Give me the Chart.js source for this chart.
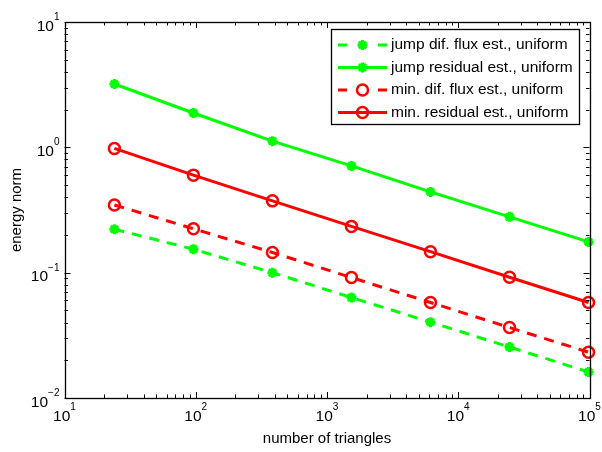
<!DOCTYPE html>
<html>
<head>
<meta charset="utf-8">
<script src="https://cdn.jsdelivr.net/npm/chart.js@4/dist/chart.umd.min.js"></script>
<style>
  html, body { margin: 0; padding: 0; background: #fff; }
  canvas { display: block; }
</style>
</head>
<body>
<canvas id="c" width="602" height="452"></canvas>
<script>
// --- data ---
const triangles    = [24, 96, 384, 1536, 6144, 24576, 98304];
const jumpDifFlux  = [0.222, 0.154, 0.100, 0.0633, 0.0403, 0.0255, 0.0161];
const jumpResidual = [3.2, 1.88, 1.12, 0.711, 0.441, 0.279, 0.176];
const minDifFlux   = [0.347, 0.224, 0.145, 0.0914, 0.0578, 0.0365, 0.0232];
const minResidual  = [0.98, 0.60, 0.374, 0.234, 0.147, 0.092, 0.0578];

const seriesLabels = [
  "jump dif. flux est., uniform",
  "jump residual est., uniform",
  "min. dif. flux est., uniform",
  "min. residual est., uniform"
];

// decade ticks (value, exponent text)
const xTickValues = [10, 100, 1000, 10000, 100000];
const xTickExps   = ["1", "2", "3", "4", "5"];
const yTickValues = [0.01, 0.1, 1, 10];
const yTickExps   = ["\u22122", "\u22121", "0", "1"];

const xTitle = "number of triangles";
const yTitle = "energy norm";

const FONT = '"Liberation Sans", Arial, Helvetica, sans-serif';
const GREEN = "#00ff00";
const RED = "#ff0000";
const DASH = [10, 8];

function pts(xs, ys) {
  return xs.map((x, i) => ({ x: x, y: ys[i] }));
}

// 目盛り・枠・ラベル・凡例を描く
const overlay = {
  id: "overlay",
  afterDraw(chart) {
    const { ctx, chartArea: a, scales } = chart;
    const x = scales.x, y = scales.y;
    ctx.save();

    // minor + major ticks, inward, on all four sides
    ctx.strokeStyle = "#000";
    ctx.lineWidth = 1;
    ctx.beginPath();
    const major = 6, minor = 3.5;
    for (let i = 0; i < xTickValues.length; i++) {
      const d = xTickValues[i];
      for (let k = 1; k <= 9; k++) {
        const v = d * k;
        if (v > xTickValues[xTickValues.length - 1]) break;
        const len = k === 1 ? major : minor;
        const px = Math.round(x.getPixelForValue(v)) + 0.5;
        ctx.moveTo(px, a.bottom); ctx.lineTo(px, a.bottom - len);
        ctx.moveTo(px, a.top); ctx.lineTo(px, a.top + len);
      }
    }
    for (let i = 0; i < yTickValues.length; i++) {
      const d = yTickValues[i];
      for (let k = 1; k <= 9; k++) {
        const v = d * k;
        if (v > yTickValues[yTickValues.length - 1] * 1.0001) break;
        const len = k === 1 ? major : minor;
        const py = Math.round(y.getPixelForValue(v)) + 0.5;
        ctx.moveTo(a.left, py); ctx.lineTo(a.left + len, py);
        ctx.moveTo(a.right, py); ctx.lineTo(a.right - len, py);
      }
    }
    ctx.stroke();

    // box
    ctx.lineWidth = 1.3;
    ctx.strokeRect(Math.round(a.left) + 0.5, Math.round(a.top) + 0.5,
                   Math.round(a.right - a.left), Math.round(a.bottom - a.top));

    // tick labels 10^n
    ctx.fillStyle = "#000";
    ctx.textBaseline = "alphabetic";
    const baseFont = "15.5px " + FONT, expFont = "10px " + FONT;
    xTickValues.forEach((v, i) => {
      ctx.font = baseFont; const wb = ctx.measureText("10").width;
      ctx.font = expFont;  const we = ctx.measureText(xTickExps[i]).width;
      const px = x.getPixelForValue(v);
      const left = px - (wb + we) / 2;
      ctx.textAlign = "left";
      ctx.font = baseFont; ctx.fillText("10", left, a.bottom + 23);
      ctx.font = expFont;  ctx.fillText(xTickExps[i], left + wb, a.bottom + 12);
    });
    yTickValues.forEach((v, i) => {
      const py = y.getPixelForValue(v);
      const right = a.left - 5;
      ctx.font = expFont; const we = ctx.measureText(yTickExps[i]).width;
      ctx.textAlign = "right";
      ctx.fillText(yTickExps[i], right, py - 2);
      ctx.font = baseFont;
      ctx.fillText("10", right - we, py + 8.5);
    });

    // axis titles
    ctx.font = "15px " + FONT;
    ctx.textAlign = "center";
    ctx.textBaseline = "middle";
    ctx.fillText(xTitle, (a.left + a.right) / 2, a.bottom + 41);
    ctx.save();
    ctx.translate(17, (a.top + a.bottom) / 2);
    ctx.rotate(-Math.PI / 2);
    ctx.fillText(yTitle, 0, 0);
    ctx.restore();

    // legend box (top right, inside axes)
    const bx = 331.5, by = 29.5, bw = 248, bh = 95;
    ctx.fillStyle = "#fff";
    ctx.fillRect(bx, by, bw, bh);
    ctx.strokeStyle = "#000";
    ctx.lineWidth = 1.3;
    ctx.strokeRect(bx, by, bw, bh);
    const rowY = [45, 67.5, 90, 112.5];
    chart.data.datasets.forEach((ds, i) => {
      const yy = rowY[i];
      const x0 = 338, x1 = 387, xm = (x0 + x1) / 2;
      ctx.strokeStyle = ds.borderColor;
      ctx.lineWidth = ds.borderWidth;
      ctx.setLineDash(ds.borderDash && ds.borderDash.length ? [9, 31] : []);
      ctx.beginPath(); ctx.moveTo(x0, yy); ctx.lineTo(x1, yy); ctx.stroke();
      ctx.setLineDash([]);
      ctx.strokeStyle = ds.pointBorderColor;
      ctx.fillStyle = "rgba(0,0,0,0)";
      ctx.lineWidth = ds.pointBorderWidth;
      Chart.helpers.drawPoint(ctx, {
        pointStyle: ds.pointStyle, radius: ds.pointRadius, borderWidth: ds.pointBorderWidth, rotation: 0
      }, xm, yy);
      ctx.fillStyle = "#000";
      ctx.font = "15.5px " + FONT;
      ctx.textAlign = "left";
      ctx.textBaseline = "middle";
      ctx.fillText(ds.label, 391, yy);
    });

    ctx.restore();
  }
};

const common = { borderWidth: 3, pointBorderWidth: 2.5, pointBackgroundColor: "rgba(0,0,0,0)", tension: 0, fill: false, clip: false };

new Chart(document.getElementById("c"), {
  type: "line",
  data: {
    datasets: [
      Object.assign({}, common, {
        label: seriesLabels[0], data: pts(triangles, jumpDifFlux),
        borderColor: GREEN, pointBorderColor: GREEN, borderDash: DASH,
        pointStyle: "star", pointRadius: 5, pointBorderWidth: 3
      }),
      Object.assign({}, common, {
        label: seriesLabels[1], data: pts(triangles, jumpResidual),
        borderColor: GREEN, pointBorderColor: GREEN, borderDash: [],
        pointStyle: "star", pointRadius: 5, pointBorderWidth: 3
      }),
      Object.assign({}, common, {
        label: seriesLabels[2], data: pts(triangles, minDifFlux),
        borderColor: RED, pointBorderColor: RED, borderDash: DASH,
        pointStyle: "circle", pointRadius: 5.5
      }),
      Object.assign({}, common, {
        label: seriesLabels[3], data: pts(triangles, minResidual),
        borderColor: RED, pointBorderColor: RED, borderDash: [],
        pointStyle: "circle", pointRadius: 5.5
      })
    ]
  },
  options: {
    responsive: false,
    animation: false,
    devicePixelRatio: 1,
    layout: { padding: { left: 64.5, right: 12.5, top: 22, bottom: 54 } },
    plugins: { legend: { display: false }, tooltip: { enabled: false } },
    scales: {
      x: { type: "logarithmic", min: 10, max: 100000, display: false },
      y: { type: "logarithmic", min: 0.01, max: 10, display: false }
    }
  },
  plugins: [overlay]
});
</script>
</body>
</html>
